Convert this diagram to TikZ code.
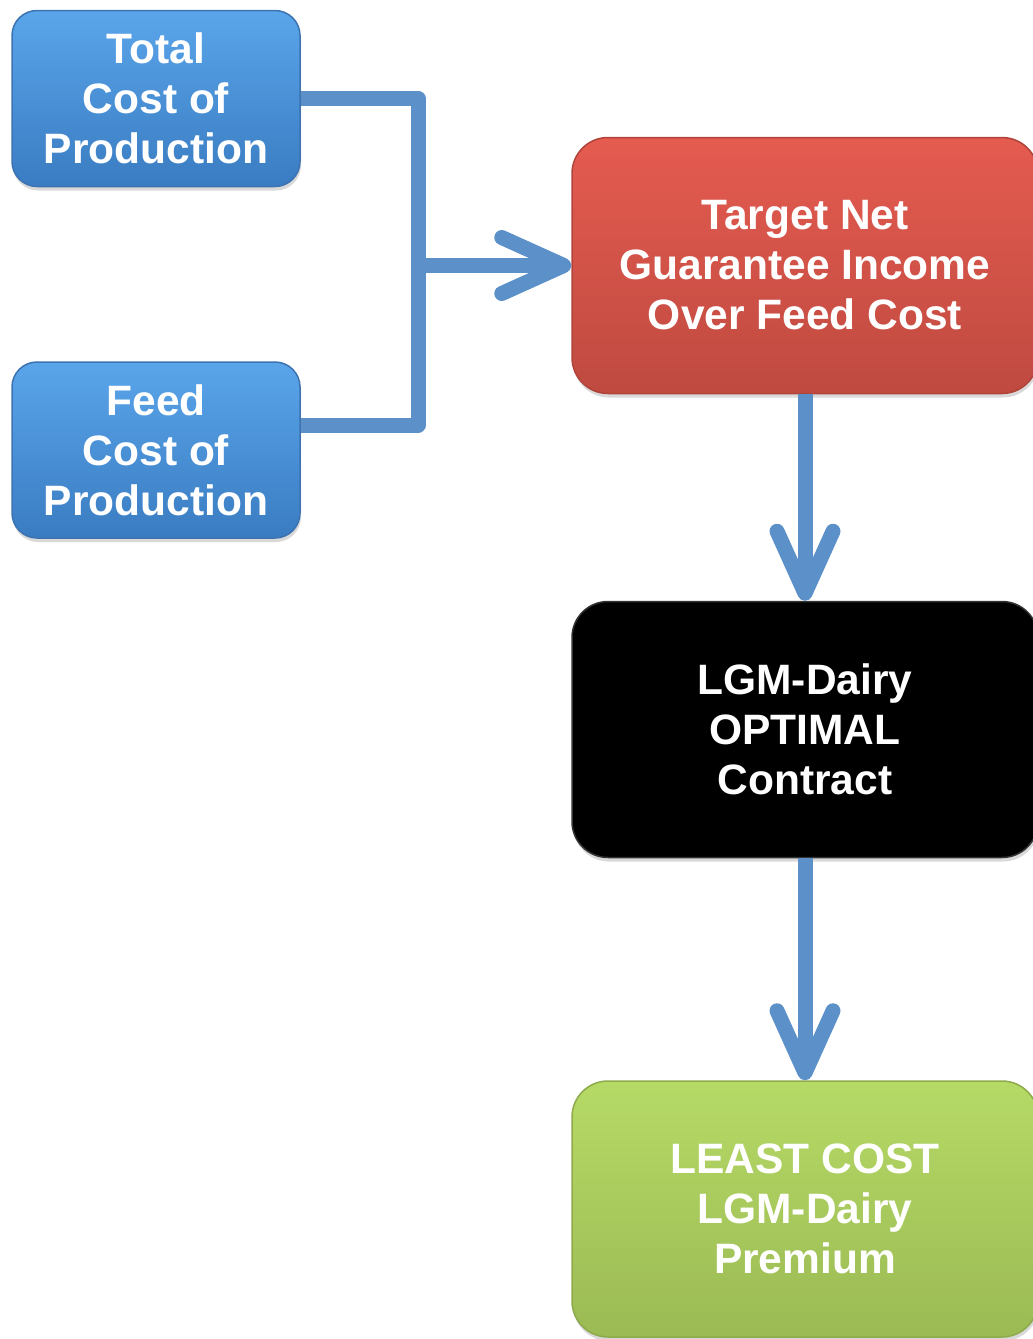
\documentclass[tikz,border=0pt]{standalone}
\usepackage{fontspec}
\setmainfont{Liberation Sans}
\usetikzlibrary{arrows.meta}
\usetikzlibrary{shadows}
\definecolor{lineblue}{HTML}{5B90C8}
\definecolor{bluetop}{HTML}{5AA5EA}
\definecolor{bluebot}{HTML}{3A7CC2}
\definecolor{blueedge}{HTML}{3C73B0}
\definecolor{redtop}{HTML}{E55B50}
\definecolor{redbot}{HTML}{BF4A40}
\definecolor{rededge}{HTML}{B0443A}
\definecolor{greentop}{HTML}{B6DA66}
\definecolor{greenbot}{HTML}{9BBA54}
\definecolor{greenedge}{HTML}{8DAA4C}

\begin{document}
\begin{tikzpicture}[x=1pt,y=-1pt,
  box/.style={line width=1.5pt, text=white, align=center, inner sep=0pt,
    font=\fontsize{42.5}{50}\selectfont\bfseries,
    drop shadow={shadow xshift=1pt,shadow yshift=-4pt,opacity=0.3}},
  inbox/.style={box, rounded corners=25pt, draw=blueedge, top color=bluetop, bottom color=bluebot,
    minimum width=288pt, minimum height=176pt},
  outbox/.style={box, rounded corners=36pt, minimum width=466pt, minimum height=256pt},
  conn/.style={draw=lineblue, line width=15pt, line join=round},
  barb/.style={-{Straight Barb[length=62pt,width=56pt,line cap=round,line join=round]}}]
\useasboundingbox (0,0) rectangle (1033,1339);

% inputs
\node[inbox] (total) at (156,98.5) {Total\\Cost of\\Production};
\node[inbox] (feed) at (156,450) {Feed\\Cost of\\Production};

% right column
\node[outbox, draw=rededge, top color=redtop, bottom color=redbot] (target) at (805,265.5) {Target Net\\Guarantee Income\\Over Feed Cost};
\node[outbox, draw=black!80, fill=black] (contract) at (805,729.5) {LGM-Dairy\\OPTIMAL\\Contract};
\node[outbox, draw=greenedge, top color=greentop, bottom color=greenbot] (premium) at (805,1209) {LEAST COST\\LGM-Dairy\\Premium};

\coordinate (junc) at (418,265.5);

\draw[conn] (total.east) -| (junc);
\draw[conn] ([yshift=25pt]feed.east) -| (junc);
\draw[conn,barb] (junc) -- (target.west);
\draw[conn,barb] (target.south) -- (contract.north);
\draw[conn,barb] (contract.south) -- (premium.north);

\end{tikzpicture}
\end{document}
